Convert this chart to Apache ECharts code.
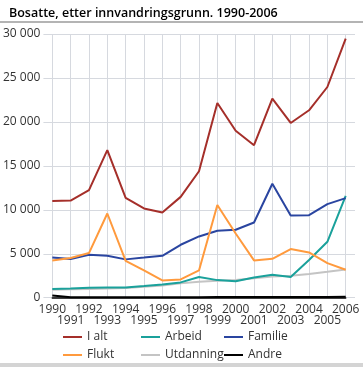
<!DOCTYPE html>
<html><head><meta charset="utf-8">
<script src="https://cdn.jsdelivr.net/npm/echarts@6/dist/echarts.min.js"></script>
<style>html,body{margin:0;padding:0;background:#fff}#c{width:363px;height:367px}</style>
</head><body><div id="c"></div>
<script>
const years = ['1990','1991','1992','1993','1994','1995','1996','1997','1998','1999','2000','2001','2002','2003','2004','2005','2006'];
const iAlt = [11000, 11050, 12240, 16780, 11360, 10150, 9700, 11470, 14390, 22150, 19000, 17350, 22650, 19880, 21320, 23970, 29470];
const arbeid = [985, 1060, 1140, 1160, 1170, 1340, 1515, 1740, 2350, 2000, 1860, 2290, 2610, 2350, 4280, 6360, 11590];
const familie = [4580, 4390, 4890, 4770, 4360, 4560, 4770, 6020, 6970, 7610, 7730, 8550, 12960, 9360, 9390, 10640, 11330];
const flukt = [4240, 4510, 5080, 9580, 4200, 3100, 1970, 2080, 3100, 10550, 7300, 4240, 4430, 5530, 5150, 3940, 3180];
const utdanning = [900, 950, 1000, 1050, 1100, 1250, 1400, 1630, 1820, 1930, 2000, 2200, 2400, 2500, 2690, 2950, 3220];
const andre = [250, 60, 50, 50, 50, 50, 50, 60, 60, 70, 70, 70, 80, 90, 90, 90, 100];
const yTicks = { min: 0, max: 30000, interval: 5000 };

const FONT = 'Open Sans';
const chart = echarts.init(document.getElementById('c'), null, {renderer: 'canvas'});
function mk(name, data, color, z) {
  return { name, type: 'line', data, xAxisIndex: 1, yAxisIndex: 1, symbol: 'none',
    lineStyle: { color, width: 2 }, itemStyle: { color }, z: z, animation: false };
}
const gridBase = { top: 34, bottom: 69.3 };
const legendCommon = { orient: 'vertical', top: 330, padding: 0, itemWidth: 19, itemHeight: 2, itemGap: 4, icon: 'rect',
  textStyle: { fontFamily: FONT, fontSize: 12, color: '#333', lineHeight: 14 }, selectedMode: false };
chart.setOption({
  animation: false,
  title: { text: 'Bosatte, etter innvandringsgrunn. 1990-2006', left: 4, top: 2,
    textStyle: { fontFamily: FONT, fontSize: 12.5, fontWeight: 600, color: '#000' } },
  graphic: [
    { type: 'rect', shape: { x: 0, y: 21, width: 363, height: 2 }, style: { fill: '#b4b4b4' } },
    { type: 'rect', shape: { x: 0, y: 363, width: 363, height: 4 }, style: { fill: '#d4d4d4' } }
  ],
  grid: [
    Object.assign({ left: 43, right: 8 }, gridBase),
    Object.assign({ left: 52.3, right: 17.3 }, gridBase)
  ],
  xAxis: [
    { type: 'category', gridIndex: 0, data: years, show: false },
    { type: 'category', gridIndex: 1, data: years, boundaryGap: false,
      axisLine: { show: true, lineStyle: { color: '#000', width: 1.5 } },
      axisTick: { show: false },
      splitLine: { show: true, interval: 0, lineStyle: { color: '#d6d9df', width: 1 } },
      axisLabel: { interval: 0, margin: 6, fontFamily: FONT, fontSize: 12, color: '#333', lineHeight: 11,
        formatter: (v, i) => (i % 2 ? '\n' + v : v) } }
  ],
  yAxis: [
    { type: 'value', gridIndex: 0, min: yTicks.min, max: yTicks.max, interval: yTicks.interval,
      axisLine: { show: false }, axisTick: { show: false },
      splitLine: { show: true, lineStyle: { color: '#d6d9df', width: 1 } },
      axisLabel: { margin: 3, fontFamily: FONT, fontSize: 12, color: '#333',
        formatter: v => String(v).replace(/\B(?=(\d{3})+(?!\d))/g, ' ') } },
    { type: 'value', gridIndex: 1, min: yTicks.min, max: yTicks.max, interval: yTicks.interval, show: false,
      splitLine: { show: false } }
  ],
  legend: [
    Object.assign({ left: 63, data: ['I alt', 'Flukt'] }, legendCommon),
    Object.assign({ left: 141, data: ['Arbeid', 'Utdanning'] }, legendCommon),
    Object.assign({ left: 224, data: ['Familie', 'Andre'] }, legendCommon)
  ],
  series: [
    mk('I alt', iAlt, '#a52f2a', 3),
    mk('Arbeid', arbeid, '#1aa19b', 3),
    mk('Familie', familie, '#2a45a0', 3),
    mk('Flukt', flukt, '#ff9a3d', 3),
    mk('Utdanning', utdanning, '#c4c4c4', 2),
    mk('Andre', andre, '#000000', 3)
  ]
});
</script></body></html>
